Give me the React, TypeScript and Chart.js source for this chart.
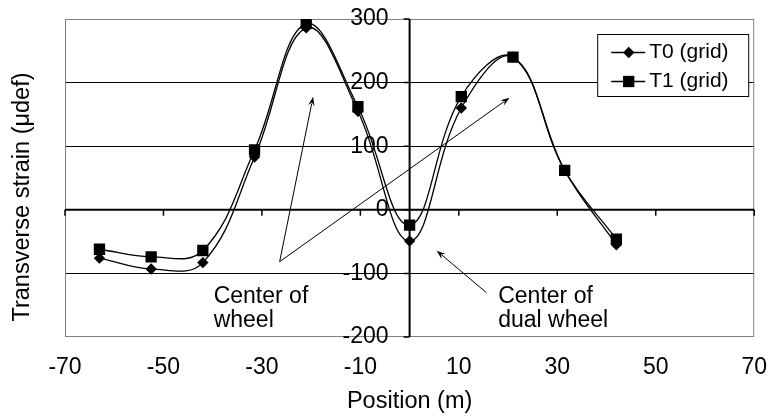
import React, { useEffect, useRef } from "react";
import { Chart, registerables } from "chart.js";

Chart.register(...registerables);

// ---- data ----
const positions = [-63, -52.5, -42, -31.5, -21, -10.5, 0, 10.5, 21, 31.5, 42];
const t0Values = [-76, -93, -83, 83, 286, 155, -49, 160, 240, 62, -55];
const t1Values = [-62, -74, -64, 94, 293, 162, -24, 178, 240, 62, -46];
const seriesLabels = ["T0 (grid)", "T1 (grid)"];
const xTicks = [-70, -50, -30, -10, 10, 30, 50, 70];
const yTicks = [-200, -100, 0, 100, 200, 300];
const xTitle = "Position (m)";
const yTitle = "Transverse strain (\u03bcdef)";

// annotation arrows in data units: [fromX, fromY, toX, toY]
const arrowWheelA = [-26.4, -81.6, -19.6, 177.8];
const arrowWheelB = [-26.4, -81.6, 20.3, 176.3];
const arrowDual = [15.6, -130.3, 5.5, -64.3];
// annotation notes: anchor (data units) of the first baseline
const noteWheelLines = ["Center of", "wheel"];
const noteWheelAnchor = [-39.8, -146.5];
const noteDualLines = ["Center of", "dual wheel"];
const noteDualAnchor = [18.0, -145.8];

const FONT = '"Liberation Sans", Arial, Helvetica, sans-serif';

function drawArrow(ctx: CanvasRenderingContext2D, x1: number, y1: number, x2: number, y2: number) {
  const ang = Math.atan2(y2 - y1, x2 - x1);
  const len = 9;
  const hw = 3.2;
  ctx.beginPath();
  ctx.moveTo(x1, y1);
  ctx.lineTo(x2 - Math.cos(ang) * (len - 2), y2 - Math.sin(ang) * (len - 2));
  ctx.stroke();
  ctx.beginPath();
  ctx.moveTo(x2, y2);
  const bx = x2 - Math.cos(ang) * len;
  const by = y2 - Math.sin(ang) * len;
  ctx.lineTo(bx + Math.sin(ang) * hw, by - Math.cos(ang) * hw);
  ctx.lineTo(x2 - Math.cos(ang) * (len - 3), y2 - Math.sin(ang) * (len - 3));
  ctx.lineTo(bx - Math.sin(ang) * hw, by + Math.cos(ang) * hw);
  ctx.closePath();
  ctx.fill();
}

const decorPlugin = {
  id: "excelDecor",
  beforeDatasetsDraw(chart: any) {
    const { ctx, chartArea: a, scales } = chart;
    const x = scales.x;
    const y = scales.y;
    ctx.save();
    ctx.strokeStyle = "#808080";
    ctx.lineWidth = 1;
    ctx.strokeRect(a.left + 0.5, a.top + 0.5, a.right - a.left - 1, a.bottom - a.top - 1);
    const x0 = x.getPixelForValue(0);
    const y0 = y.getPixelForValue(0);
    ctx.strokeStyle = "#000";
    ctx.lineWidth = 2;
    ctx.beginPath();
    ctx.moveTo(a.left, y0);
    ctx.lineTo(a.right, y0);
    ctx.moveTo(x0, a.top);
    ctx.lineTo(x0, a.bottom);
    ctx.stroke();
    ctx.lineWidth = 1.5;
    ctx.beginPath();
    for (const v of yTicks) {
      const py = y.getPixelForValue(v);
      ctx.moveTo(x0 - 6, py);
      ctx.lineTo(x0, py);
    }
    for (const v of xTicks) {
      const px = x.getPixelForValue(v);
      ctx.moveTo(px, y0);
      ctx.lineTo(px, y0 + 6);
    }
    ctx.stroke();
    ctx.fillStyle = "#000";
    ctx.font = `23px ${FONT}`;
    ctx.textAlign = "right";
    ctx.textBaseline = "middle";
    for (const v of yTicks) {
      ctx.fillText(String(v), x0 - 21, y.getPixelForValue(v));
    }
    ctx.restore();
  },
  afterDatasetsDraw(chart: any) {
    const { ctx, chartArea: a, scales } = chart;
    const x = scales.x;
    const y = scales.y;
    ctx.save();
    // arrows
    ctx.strokeStyle = "#000";
    ctx.fillStyle = "#000";
    ctx.lineWidth = 1;
    for (const ar of [arrowWheelA, arrowWheelB, arrowDual]) {
      drawArrow(
        ctx,
        x.getPixelForValue(ar[0]),
        y.getPixelForValue(ar[1]),
        x.getPixelForValue(ar[2]),
        y.getPixelForValue(ar[3])
      );
    }
    // notes
    ctx.font = `23px ${FONT}`;
    ctx.textAlign = "left";
    ctx.textBaseline = "alphabetic";
    const notes: [string[], number[]][] = [
      [noteWheelLines, noteWheelAnchor],
      [noteDualLines, noteDualAnchor],
    ];
    for (const [lines, anc] of notes) {
      const px = x.getPixelForValue(anc[0]);
      const py = y.getPixelForValue(anc[1]);
      lines.forEach((t, i) => ctx.fillText(t, px, py + i * 24));
    }
    // legend
    const bw = 151;
    const bh = 62;
    const bl = a.right - 157;
    const bt = a.top + 15;
    ctx.fillStyle = "#fff";
    ctx.fillRect(bl, bt, bw, bh);
    ctx.strokeStyle = "#000";
    ctx.lineWidth = 1;
    ctx.strokeRect(bl + 0.5, bt + 0.5, bw, bh);
    const rows = [bt + 18.5, bt + 47.5];
    chart.data.datasets.forEach((ds: any, i: number) => {
      const ry = rows[i];
      ctx.strokeStyle = "#000";
      ctx.lineWidth = 1.3;
      ctx.beginPath();
      ctx.moveTo(bl + 14, ry);
      ctx.lineTo(bl + 48, ry);
      ctx.stroke();
      ctx.fillStyle = "#000";
      ctx.beginPath();
      const mx = bl + 31.5;
      const r = ds.pointRadius;
      if (ds.pointStyle === "rectRot") {
        ctx.moveTo(mx - r, ry);
        ctx.lineTo(mx, ry - r);
        ctx.lineTo(mx + r, ry);
        ctx.lineTo(mx, ry + r);
        ctx.closePath();
      } else {
        const s = Math.SQRT1_2 * r;
        ctx.rect(mx - s, ry - s, 2 * s, 2 * s);
      }
      ctx.fill();
      ctx.font = `21px ${FONT}`;
      ctx.textAlign = "left";
      ctx.textBaseline = "middle";
      ctx.fillText(ds.label, bl + 52, ry);
    });
    // y title
    ctx.save();
    ctx.translate(23, (a.top + a.bottom) / 2 + 19);
    ctx.rotate(-Math.PI / 2);
    ctx.font = `23.5px ${FONT}`;
    ctx.textAlign = "center";
    ctx.textBaseline = "middle";
    ctx.fillStyle = "#000";
    ctx.fillText(yTitle, 0, 0);
    ctx.restore();
    ctx.restore();
  },
};

export default function App() {
  const ref = useRef<HTMLCanvasElement | null>(null);
  useEffect(() => {
    if (!ref.current) return;
    const mk = (vals: number[]) => positions.map((p, i) => ({ x: p, y: vals[i] }));
    const chart = new Chart(ref.current, {
      type: "scatter",
      data: {
        datasets: [
          {
            label: seriesLabels[0],
            data: mk(t0Values),
            showLine: true,
            borderColor: "#000",
            backgroundColor: "#000",
            borderWidth: 1.3,
            tension: 0.4,
            pointStyle: "rectRot",
            pointRadius: 5.7,
            pointBorderWidth: 0,
          },
          {
            label: seriesLabels[1],
            data: mk(t1Values),
            showLine: true,
            borderColor: "#000",
            backgroundColor: "#000",
            borderWidth: 1.3,
            tension: 0.4,
            pointStyle: "rect",
            pointRadius: 8,
            pointBorderWidth: 0,
          },
        ],
      },
      options: {
        responsive: false,
        animation: false,
        devicePixelRatio: 1,
        layout: { padding: { top: 19, right: 16, left: 0, bottom: 0 } },
        plugins: { legend: { display: false }, tooltip: { enabled: false } },
        scales: {
          x: {
            type: "linear",
            position: "bottom",
            min: xTicks[0],
            max: xTicks[xTicks.length - 1],
            afterFit: (s: any) => {
              s.height = 80;
            },
            ticks: {
              stepSize: 20,
              color: "#000",
              font: { family: FONT, size: 23 },
              padding: 17,
              maxRotation: 0,
            },
            grid: { display: false, drawTicks: false },
            border: { display: false },
            title: {
              display: true,
              text: xTitle,
              color: "#000",
              font: { family: FONT, size: 23.5 },
              padding: { top: 0, bottom: 1.6 },
            },
          },
          y: {
            type: "linear",
            position: "left",
            min: yTicks[0],
            max: yTicks[yTicks.length - 1],
            afterFit: (s: any) => {
              s.width = 65;
            },
            ticks: { stepSize: 100, display: false },
            grid: {
              drawTicks: false,
              lineWidth: 1,
              color: (c: any) => {
                const v = c.tick ? c.tick.value : 0;
                return v === 0 || v === yTicks[0] || v === yTicks[yTicks.length - 1]
                  ? "rgba(0,0,0,0)"
                  : "#000";
              },
            },
            border: { display: false },
          },
        },
      },
      plugins: [decorPlugin],
    });
    return () => chart.destroy();
  }, []);
  return (
    <div style={{ position: "absolute", left: 0, top: 0, width: 784, height: 417, background: "#fff" }}>
      <canvas ref={ref} width={784} height={417} />
    </div>
  );
}
